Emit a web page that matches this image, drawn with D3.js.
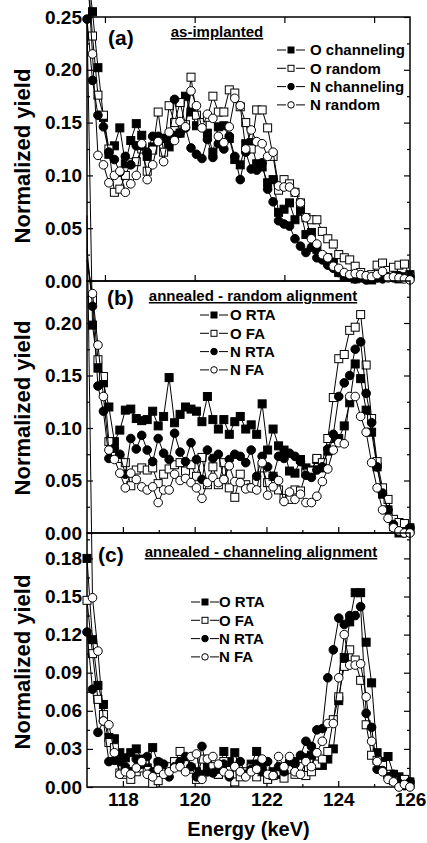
<!DOCTYPE html>
<html>
<head>
<meta charset="utf-8">
<script src="https://cdn.jsdelivr.net/npm/d3@7"></script>
<style>
  body { margin: 0; background: #fff; }
  text { font-family: "Liberation Sans", Arial, sans-serif; font-weight: bold; fill: #000; }
</style>
</head>
<body>
<script>
// Energy channels (keV), shared by every series
var energy = [
  117.000, 117.153, 117.305, 117.458, 117.610, 117.763, 117.915, 118.068, 118.220, 118.373,
  118.525, 118.678, 118.830, 118.983, 119.135, 119.288, 119.440, 119.593, 119.745, 119.898,
  120.050, 120.203, 120.355, 120.508, 120.660, 120.813, 120.965, 121.118, 121.270, 121.423,
  121.575, 121.728, 121.880, 122.033, 122.185, 122.338, 122.490, 122.643, 122.795, 122.948,
  123.100, 123.253, 123.405, 123.558, 123.710, 123.863, 124.015, 124.168, 124.320, 124.473,
  124.625, 124.778, 124.930, 125.083, 125.235, 125.388, 125.540, 125.693, 125.845, 125.998
];

// (a) as-implanted
var aOChan = [
  0.300, 0.255, 0.202, 0.155, 0.120, 0.128, 0.145, 0.111, 0.133, 0.149,
  0.138, 0.118, 0.127, 0.133, 0.135, 0.127, 0.138, 0.140, 0.175, 0.160,
  0.147, 0.150, 0.140, 0.122, 0.146, 0.147, 0.135, 0.115, 0.110, 0.130,
  0.131, 0.111, 0.108, 0.093, 0.096, 0.065, 0.068, 0.074, 0.058, 0.066,
  0.044, 0.046, 0.030, 0.023, 0.022, 0.018, 0.008, 0.004, 0.005, 0.002,
  0.004, 0.003, 0.001, 0.003, 0.006, 0.004, 0.007, 0.002, 0.004, 0.006
];
var aORand = [
  0.300, 0.232, 0.176, 0.157, 0.125, 0.084, 0.087, 0.100, 0.112, 0.113,
  0.125, 0.104, 0.124, 0.160, 0.122, 0.166, 0.150, 0.169, 0.148, 0.193,
  0.157, 0.150, 0.155, 0.175, 0.160, 0.160, 0.181, 0.178, 0.165, 0.150,
  0.125, 0.162, 0.162, 0.145, 0.118, 0.086, 0.096, 0.092, 0.084, 0.074,
  0.060, 0.058, 0.058, 0.047, 0.040, 0.035, 0.025, 0.022, 0.020, 0.014,
  0.008, 0.005, 0.006, 0.015, 0.017, 0.010, 0.013, 0.015, 0.016, 0.004
];
var aNChan = [
  0.248, 0.190, 0.157, 0.146, 0.122, 0.115, 0.103, 0.118, 0.110, 0.128,
  0.128, 0.122, 0.137, 0.137, 0.135, 0.133, 0.172, 0.140, 0.145, 0.126,
  0.120, 0.116, 0.134, 0.117, 0.130, 0.125, 0.137, 0.118, 0.096, 0.122,
  0.106, 0.105, 0.112, 0.087, 0.075, 0.057, 0.054, 0.052, 0.040, 0.033,
  0.027, 0.032, 0.022, 0.020, 0.015, 0.012, 0.008, 0.006, 0.004, 0.002,
  0.003, 0.001, 0.002, 0.003, 0.002, 0.004, 0.003, 0.005, 0.003, 0.004
];
var aNRand = [
  0.300, 0.215, 0.119, 0.110, 0.093, 0.100, 0.104, 0.084, 0.092, 0.100,
  0.130, 0.096, 0.110, 0.132, 0.113, 0.141, 0.133, 0.151, 0.146, 0.180,
  0.166, 0.145, 0.158, 0.154, 0.137, 0.131, 0.146, 0.173, 0.166, 0.125,
  0.143, 0.132, 0.130, 0.118, 0.122, 0.090, 0.089, 0.089, 0.084, 0.074,
  0.060, 0.040, 0.035, 0.025, 0.022, 0.014, 0.012, 0.008, 0.006, 0.007,
  0.006, 0.005, 0.004, 0.006, 0.009, 0.003, 0.004, 0.003, 0.002, 0.001
];

// (b) annealed - random alignment
var bORTA = [
  0.490, 0.198, 0.157, 0.143, 0.120, 0.087, 0.098, 0.117, 0.118, 0.109,
  0.107, 0.108, 0.116, 0.102, 0.111, 0.148, 0.105, 0.113, 0.120, 0.118,
  0.116, 0.106, 0.130, 0.108, 0.099, 0.108, 0.094, 0.106, 0.111, 0.099,
  0.103, 0.094, 0.123, 0.079, 0.099, 0.083, 0.079, 0.059, 0.057, 0.070,
  0.062, 0.060, 0.070, 0.062, 0.078, 0.090, 0.090, 0.102, 0.124, 0.161,
  0.147, 0.117, 0.096, 0.063, 0.037, 0.022, 0.006, 0.000, 0.002, 0.005
];
var bOFA = [
  0.260, 0.222, 0.165, 0.149, 0.087, 0.073, 0.071, 0.067, 0.045, 0.060,
  0.062, 0.060, 0.062, 0.047, 0.056, 0.061, 0.065, 0.067, 0.059, 0.065,
  0.054, 0.072, 0.046, 0.063, 0.046, 0.067, 0.043, 0.034, 0.056, 0.046,
  0.043, 0.048, 0.062, 0.048, 0.054, 0.041, 0.033, 0.032, 0.041, 0.040,
  0.057, 0.059, 0.071, 0.067, 0.090, 0.129, 0.166, 0.170, 0.193, 0.196,
  0.208, 0.160, 0.109, 0.068, 0.043, 0.032, 0.013, 0.010, 0.009, 0.003
];
var bNRTA = [
  0.270, 0.216, 0.140, 0.116, 0.071, 0.081, 0.075, 0.056, 0.090, 0.080,
  0.093, 0.079, 0.068, 0.090, 0.076, 0.070, 0.095, 0.077, 0.068, 0.086,
  0.070, 0.051, 0.079, 0.071, 0.075, 0.051, 0.070, 0.075, 0.073, 0.067,
  0.079, 0.054, 0.073, 0.063, 0.054, 0.073, 0.071, 0.076, 0.073, 0.068,
  0.055, 0.053, 0.060, 0.063, 0.080, 0.094, 0.130, 0.143, 0.150, 0.175,
  0.182, 0.133, 0.105, 0.063, 0.038, 0.022, 0.008, 0.002, 0.000, 0.005
];
var bNFA = [
  0.260, 0.228, 0.179, 0.130, 0.079, 0.070, 0.057, 0.043, 0.057, 0.051,
  0.044, 0.041, 0.044, 0.029, 0.041, 0.041, 0.056, 0.050, 0.052, 0.048,
  0.043, 0.033, 0.048, 0.053, 0.048, 0.051, 0.064, 0.049, 0.048, 0.042,
  0.043, 0.041, 0.067, 0.036, 0.044, 0.050, 0.030, 0.039, 0.032, 0.037,
  0.029, 0.029, 0.035, 0.049, 0.061, 0.079, 0.086, 0.085, 0.130, 0.130,
  0.111, 0.096, 0.067, 0.043, 0.022, 0.014, 0.005, 0.002, 0.000, 0.000
];

// (c) annealed - channeling alignment
var cORTA = [
  0.180, 0.116, 0.080, 0.065, 0.039, 0.038, 0.027, 0.023, 0.027, 0.030,
  0.022, 0.015, 0.031, 0.019, 0.012, 0.015, 0.020, 0.016, 0.022, 0.015,
  0.012, 0.010, 0.018, 0.013, 0.010, 0.028, 0.020, 0.027, 0.012, 0.010,
  0.018, 0.028, 0.015, 0.007, 0.012, 0.010, 0.013, 0.018, 0.020, 0.015,
  0.023, 0.025, 0.017, 0.017, 0.022, 0.030, 0.068, 0.102, 0.130, 0.153,
  0.153, 0.114, 0.082, 0.027, 0.020, 0.024, 0.010, 0.008, 0.002, 0.004
];
var cOFA = [
  0.147, 0.105, 0.069, 0.057, 0.035, 0.031, 0.011, 0.010, 0.006, 0.012,
  0.015, 0.013, 0.003, 0.005, 0.012, 0.016, 0.020, 0.028, 0.018, 0.014,
  0.006, 0.022, 0.012, 0.016, 0.010, 0.020, 0.013, 0.004, 0.008, 0.012,
  0.015, 0.008, 0.012, 0.006, 0.009, 0.012, 0.007, 0.014, 0.010, 0.016,
  0.009, 0.012, 0.018, 0.022, 0.028, 0.053, 0.071, 0.095, 0.108, 0.100,
  0.084, 0.049, 0.025, 0.021, 0.017, 0.010, 0.005, 0.003, 0.006, 0.002
];
var cNRTA = [
  0.122, 0.077, 0.043, 0.052, 0.020, 0.021, 0.020, 0.016, 0.012, 0.022,
  0.018, 0.024, 0.012, 0.020, 0.018, 0.008, 0.016, 0.020, 0.024, 0.016,
  0.008, 0.032, 0.012, 0.011, 0.014, 0.018, 0.008, 0.016, 0.020, 0.010,
  0.014, 0.018, 0.012, 0.020, 0.010, 0.016, 0.012, 0.020, 0.018, 0.025,
  0.036, 0.032, 0.045, 0.046, 0.086, 0.108, 0.133, 0.128, 0.135, 0.135,
  0.142, 0.058, 0.047, 0.014, 0.013, 0.008, 0.010, 0.003, 0.001, 0.004
];
var cNFA = [
  0.450, 0.149, 0.107, 0.052, 0.049, 0.027, 0.010, 0.012, 0.010, 0.015,
  0.020, 0.010, 0.008, 0.014, 0.010, 0.012, 0.015, 0.016, 0.012, 0.024,
  0.026, 0.006, 0.022, 0.024, 0.018, 0.012, 0.010, 0.016, 0.012, 0.008,
  0.012, 0.014, 0.022, 0.010, 0.009, 0.024, 0.016, 0.024, 0.012, 0.010,
  0.020, 0.016, 0.027, 0.036, 0.050, 0.050, 0.086, 0.120, 0.096, 0.096,
  0.097, 0.071, 0.036, 0.020, 0.012, 0.006, 0.004, 0.000, 0.002, 0.000
];

// Legend names and tick labels
var aNames = ["O channeling", "O random", "N channeling", "N random"];
var bcNames = ["O RTA", "O FA", "N RTA", "N FA"];
var yTicksA = [0, 0.05, 0.10, 0.15, 0.20, 0.25];
var yMinorA = [0.025, 0.075, 0.125, 0.175, 0.225];
var yTicksB = [0, 0.05, 0.10, 0.15, 0.20];
var yMinorB = [0.025, 0.075, 0.125, 0.175, 0.225];
var yTicksC = [0, 0.03, 0.06, 0.09, 0.12, 0.15, 0.18];
var yMinorC = [0.015, 0.045, 0.075, 0.105, 0.135, 0.165, 0.195];
var xTicksA = [117.5, 120, 122.5, 125];
var xMajor = [118, 120, 122, 124, 126];
var xMinor = [119, 121, 123, 125];

// Marker styles, one per series position
var styles = [
  { shape: "square", fill: "#000" },
  { shape: "square", fill: "#fff" },
  { shape: "circle", fill: "#000" },
  { shape: "circle", fill: "#fff" }
];

var svgWidth = 427;
var svgHeight = 843;
var plotLeft = 87;
var plotRight = 410;

var svg = d3.select("body")
  .append("svg")
  .attr("width", svgWidth)
  .attr("height", svgHeight);

var x = d3.scaleLinear().domain([117, 126]).range([plotLeft, plotRight]);

var panels = [
  { series: [aOChan, aORand, aNChan, aNRand], names: aNames, ymax: 0.25, top: 17, bottom: 281,
    yMajor: yTicksA, yMinor: yMinorA, xMaj: xTicksA, xMin: [], topTicks: true,
    letter: "(a)", letterX: 108, letterY: 45, title: "as-implanted", titleX: 217, titleY: 37,
    legMark: 291, legText: 310, legY: 50, ytitle: 156 },
  { series: [bORTA, bOFA, bNRTA, bNFA], names: bcNames, ymax: 0.24, top: 281, bottom: 533,
    yMajor: yTicksB, yMinor: yMinorB, xMaj: xMajor, xMin: xMinor, topTicks: false,
    letter: "(b)", letterX: 107, letterY: 305, title: "annealed - random alignment", titleX: 253, titleY: 301,
    legMark: 214, legText: 230, legY: 315, ytitle: 408 },
  { series: [cORTA, cOFA, cNRTA, cNFA], names: bcNames, ymax: 0.20, top: 533, bottom: 787,
    yMajor: yTicksC, yMinor: yMinorC, xMaj: xMajor, xMin: xMinor, topTicks: false,
    letter: "(c)", letterX: 98, letterY: 562, title: "annealed - channeling alignment", titleX: 261, titleY: 557,
    legMark: 205, legText: 219, legY: 602, ytitle: 662 }
];

// draw one marker into a group
function addMarker(g, style, cx, cy, size) {
  if (style.shape === "square") {
    g.append("rect")
      .attr("x", cx - size / 2)
      .attr("y", cy - size / 2)
      .attr("width", size)
      .attr("height", size)
      .attr("fill", style.fill)
      .attr("stroke", "#000")
      .attr("stroke-width", 1);
  } else {
    g.append("circle")
      .attr("cx", cx)
      .attr("cy", cy)
      .attr("r", size / 2)
      .attr("fill", style.fill)
      .attr("stroke", "#000")
      .attr("stroke-width", 1);
  }
}

panels.forEach(function(p, pi) {
  var y = d3.scaleLinear().domain([0, p.ymax]).range([p.bottom, p.top]);
  var g = svg.append("g");

  // Axes: ticks point inward, domain paths removed (frame drawn below)
  var leftAxis = d3.axisLeft(y).tickValues(p.yMajor).tickSize(-6).tickPadding(5).tickFormat(d3.format(".2f"));
  var leftMinor = d3.axisLeft(y).tickValues(p.yMinor).tickSize(-3).tickFormat("");
  var rightAxis = d3.axisRight(y).tickValues(p.yMajor).tickSize(-6).tickFormat("");
  var rightMinor = d3.axisRight(y).tickValues(p.yMinor).tickSize(-3).tickFormat("");
  var bottomAxis = d3.axisBottom(x).tickValues(p.xMaj).tickSize(-6).tickPadding(6)
    .tickFormat(pi === 2 ? d3.format("d") : "");
  var bottomMinor = d3.axisBottom(x).tickValues(p.xMin).tickSize(-3).tickFormat("");

  [[leftAxis, "translate(" + plotLeft + ",0)"], [leftMinor, "translate(" + plotLeft + ",0)"],
   [rightAxis, "translate(" + plotRight + ",0)"], [rightMinor, "translate(" + plotRight + ",0)"],
   [bottomAxis, "translate(0," + p.bottom + ")"], [bottomMinor, "translate(0," + p.bottom + ")"]]
    .forEach(function(a) {
      var ag = g.append("g").attr("transform", a[1]).call(a[0]);
      ag.select(".domain").remove();
      ag.selectAll("line").attr("stroke-width", 1.2);
      ag.selectAll("text").attr("font-size", 19).attr("font-family", null);
    });

  if (p.topTicks) {
    var topAxis = d3.axisTop(x).tickValues(p.xMaj).tickSize(-6).tickFormat("");
    var tg = g.append("g").attr("transform", "translate(0," + p.top + ")").call(topAxis);
    tg.select(".domain").remove();
    tg.selectAll("line").attr("stroke-width", 1.2);
  }

  // Frame
  g.append("rect")
    .attr("x", plotLeft)
    .attr("y", p.top)
    .attr("width", plotRight - plotLeft)
    .attr("height", p.bottom - p.top)
    .attr("fill", "none")
    .attr("stroke", "#000")
    .attr("stroke-width", 1.5);

  // Series: line then markers, later series on top (lines are not clipped)
  var line = d3.line()
    .x(function(d, i) { return x(energy[i]); })
    .y(function(d) { return y(d); });

  p.series.forEach(function(vals, si) {
    g.append("path")
      .attr("d", line(vals))
      .attr("fill", "none")
      .attr("stroke", "#000")
      .attr("stroke-width", 1);
    var mg = g.append("g");
    vals.forEach(function(v, i) {
      if (v <= p.ymax + 0.008) {
        addMarker(mg, styles[si], x(energy[i]), y(v), styles[si].shape === "square" ? 8 : 8.6);
      }
    });
  });

  // Legend
  p.names.forEach(function(name, k) {
    var ly = p.legY + k * 18.3;
    g.append("line")
      .attr("x1", p.legMark - 14).attr("x2", p.legMark - 5)
      .attr("y1", ly).attr("y2", ly)
      .attr("stroke", "#000").attr("stroke-width", 1);
    g.append("line")
      .attr("x1", p.legMark + 5).attr("x2", p.legMark + 14)
      .attr("y1", ly).attr("y2", ly)
      .attr("stroke", "#000").attr("stroke-width", 1);
    addMarker(g, styles[k], p.legMark, ly, styles[k].shape === "square" ? 6 : 6.5);
    g.append("text")
      .attr("x", p.legText)
      .attr("y", ly)
      .attr("dy", "0.36em")
      .attr("font-size", 15)
      .text(name);
  });

  // Panel letter and underlined title
  g.append("text")
    .attr("x", p.letterX)
    .attr("y", p.letterY)
    .attr("font-size", 21)
    .text(p.letter);
  g.append("text")
    .attr("x", p.titleX)
    .attr("y", p.titleY)
    .attr("text-anchor", "middle")
    .attr("font-size", 15)
    .style("text-decoration", "underline")
    .text(p.title);

  // y-axis title
  g.append("text")
    .attr("transform", "translate(30," + p.ytitle + ") rotate(-90)")
    .attr("text-anchor", "middle")
    .attr("font-size", 22)
    .text("Normalized yield");
});

// x-axis title
svg.append("text")
  .attr("x", (plotLeft + plotRight) / 2)
  .attr("y", 836)
  .attr("text-anchor", "middle")
  .attr("font-size", 20)
  .text("Energy (keV)");
</script>
</body>
</html>
